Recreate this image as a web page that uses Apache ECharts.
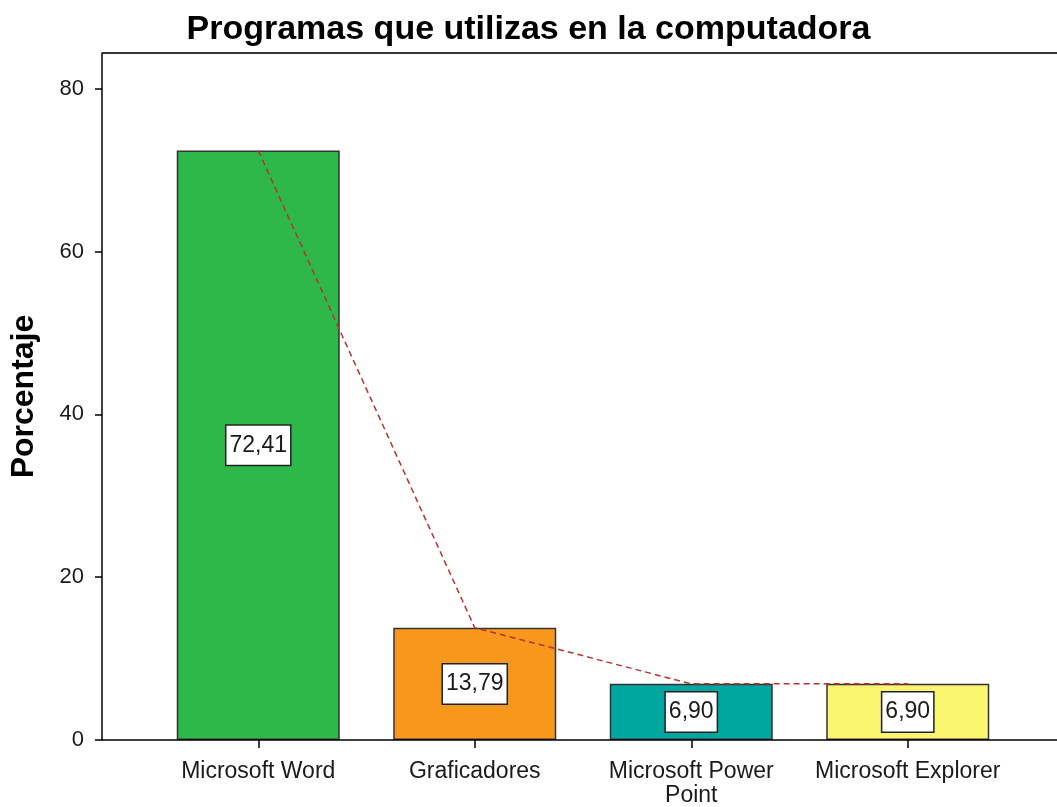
<!DOCTYPE html>
<html>
<head>
<meta charset="utf-8">
<script src="https://cdn.jsdelivr.net/npm/echarts@6/dist/echarts.min.js"></script>
<style>html,body{margin:0;padding:0;background:#fff}#c{width:1057px;height:807px}</style>
</head>
<body>
<div id="c"></div>
<script>
const categories = ['Microsoft Word', 'Graficadores', 'Microsoft Power\nPoint', 'Microsoft Explorer'];
const values = [72.41, 13.79, 6.90, 6.90];
const barColors = ['#2EB84A', '#F7981D', '#00A6A0', '#FAF56E'];
const yTicks = [0, 20, 40, 60, 80];
const titleText = 'Programas que utilizas en la computadora';
const yName = 'Porcentaje';

const chart = echarts.init(document.getElementById('c'));
const F = 'Liberation Sans, Arial, sans-serif';
chart.setOption({
  animation: false,
  title: {
    text: titleText, left: 'center', top: 8,
    textStyle: { fontFamily: F, fontSize: 34, fontWeight: 'bold', color: '#000' }
  },
  grid: { left: 150, width: 866, top: 53, bottom: 67, outerBoundsMode: 'none', containLabel: false },
  xAxis: {
    type: 'category', data: categories,
    axisLine: { show: false },
    axisTick: { show: true, alignWithLabel: true, length: 8, lineStyle: { color: '#000', width: 1.5 } },
    axisLabel: { interval: 0, fontFamily: F, fontSize: 23, color: '#1a1a1a', margin: 20, lineHeight: 24 }
  },
  yAxis: {
    type: 'value', min: 0, max: 84.4, offset: 48,
    name: yName, nameLocation: 'middle', nameGap: 62, nameRotate: 90,
    nameTextStyle: { fontFamily: F, fontSize: 32, fontWeight: 'bold', color: '#000' },
    axisLine: { show: true, lineStyle: { color: '#000', width: 1.5 } },
    axisTick: { show: true, length: 7, customValues: yTicks, lineStyle: { color: '#000', width: 1.5 } },
    axisLabel: { fontFamily: F, fontSize: 22, color: '#1a1a1a', margin: 18, customValues: yTicks },
    splitLine: { show: false }
  },
  graphic: [
    { type: 'line', shape: { x1: 102, y1: 53, x2: 1057, y2: 53 }, style: { stroke: '#333', lineWidth: 2 }, z: 10 },
    { type: 'line', shape: { x1: 102, y1: 740, x2: 1057, y2: 740 }, style: { stroke: '#000', lineWidth: 1.5 }, z: 10 }
  ],
  series: [
    {
      type: 'bar', barWidth: 163,
      data: values.map((v, i) => ({ value: v, itemStyle: { color: barColors[i] } })),
      itemStyle: { borderColor: '#333', borderWidth: 1.5 },
      label: {
        show: true, position: 'inside',
        formatter: p => p.value.toFixed(2).replace('.', ','),
        fontFamily: F, fontSize: 23, color: '#1a1a1a',
        backgroundColor: '#fff', borderColor: '#222', borderWidth: 1.5,
        padding: [8, 3, 8, 3]
      },
      z: 2
    },
    {
      type: 'line', data: values, symbol: 'none',
      lineStyle: { color: '#B83232', width: 1.5, type: [6, 4] },
      z: 5
    }
  ]
});
</script>
</body>
</html>
